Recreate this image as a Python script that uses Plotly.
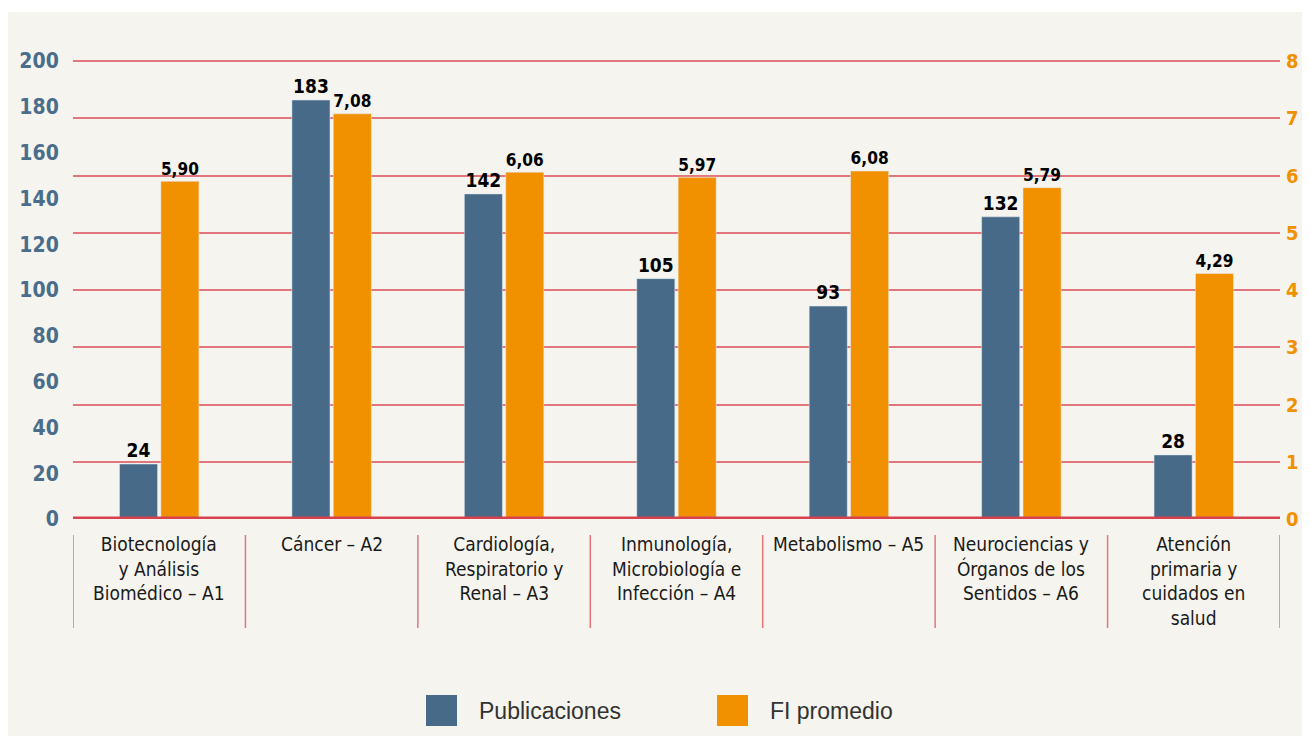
import plotly.graph_objects as go

categories = [
    "Biotecnología<br>y Análisis<br>Biomédico – A1",
    "Cáncer – A2",
    "Cardiología,<br>Respiratorio y<br>Renal – A3",
    "Inmunología,<br>Microbiología e<br>Infección – A4",
    "Metabolismo – A5",
    "Neurociencias y<br>Órganos de los<br>Sentidos – A6",
    "Atención<br>primaria y<br>cuidados en<br>salud",
]
publicaciones = [24, 183, 142, 105, 93, 132, 28]
fi_promedio = [5.90, 7.08, 6.06, 5.97, 6.08, 5.79, 4.29]
series_names = ["Publicaciones", "FI promedio"]
left_ticks = list(range(0, 201, 20))
right_ticks = list(range(0, 9))

BLUE = "#466a87"
ORANGE = "#f29100"
GRID = "#e2767d"
ZERO = "#d7424e"
BG = "#f5f4ee"
NARROW = "DejaVu Sans Condensed, Roboto Condensed, Roboto, Liberation Sans, sans-serif"

x_idx = list(range(len(categories)))

# figure sits at (8, 8) in the page; keep it inside the window
OFF = 8
W, H = 1310 - 2 * OFF, 744 - 2 * OFF
ZERO_Y = 519 - OFF
TOP8_Y = 61 - OFF
PLOT_L, PLOT_R = 73 - OFF, 1280 - OFF
YMAX2 = 8.02
unit = (ZERO_Y - TOP8_Y) / 8.0
T = int(round(ZERO_Y - YMAX2 * unit))
L, R, B = PLOT_L, W - PLOT_R, H - ZERO_Y
pw, ph = W - L - R, H - T - B

def px(xs):
    return (xs - OFF - L) / pw

def py(ys):
    return (H - B - (ys - OFF)) / ph

fig = go.Figure()
fig.add_trace(go.Bar(
    x=x_idx, y=publicaciones, name=series_names[0], marker_color=BLUE,
    offsetgroup="1", yaxis="y",
    text=[str(v) for v in publicaciones], textposition="outside",
    textfont=dict(family=NARROW, size=19, color="#000000", weight="bold"),
    cliponaxis=False, showlegend=False,
))
fig.add_trace(go.Bar(
    x=x_idx, y=fi_promedio, name=series_names[1], marker_color=ORANGE,
    offsetgroup="2", yaxis="y2",
    text=[f"{v:.2f}".replace(".", ",") for v in fi_promedio], textposition="outside",
    textfont=dict(family=NARROW, size=19, color="#000000", weight="bold"),
    cliponaxis=False, showlegend=False,
))

shapes = [
    dict(type="rect", xref="paper", yref="paper", x0=px(8), x1=px(1320),
         y0=py(12), y1=py(760), fillcolor=BG, line_width=0, layer="below"),
    dict(type="line", xref="paper", yref="y", x0=0, x1=1, y0=0, y1=0,
         line=dict(color=ZERO, width=5), layer="above"),
]
for i in range(len(categories) + 1):
    shapes.append(dict(type="line", xref="x", yref="paper", x0=i - 0.5, x1=i - 0.5,
                       y0=py(535), y1=py(628), line=dict(color=GRID, width=1.5)))

annotations = []
for i, c in enumerate(categories):
    annotations.append(dict(x=i, xref="x", y=py(531), yref="paper", text=c,
                            showarrow=False, xanchor="center", yanchor="top",
                            align="center",
                            font=dict(family=NARROW, size=19, color="#1a1a1a")))

legend_colors = [BLUE, ORANGE]
legend_x = [426, 717]
for name, col, lx in zip(series_names, legend_colors, legend_x):
    shapes.append(dict(type="rect", xref="paper", yref="paper", x0=px(lx), x1=px(lx + 31),
                       y0=py(726), y1=py(695), fillcolor=col, line_width=0))
    annotations.append(dict(x=px(lx + 51), xref="paper", y=py(711), yref="paper",
                            text=name, showarrow=False, xanchor="left", yanchor="middle",
                            font=dict(family="Liberation Sans", size=23, color="#333333")))

fig.update_layout(
    width=W, height=H,
    margin=dict(l=L, r=R, t=T, b=B, autoexpand=False),
    paper_bgcolor="white", plot_bgcolor="rgba(0,0,0,0)",
    barmode="group", bargap=0.52, bargroupgap=0.08,
    showlegend=False,
    xaxis=dict(range=[-0.5, len(categories) - 0.5], showticklabels=False, automargin=False,
               showgrid=False, zeroline=False, showline=False, tickvals=x_idx),
    yaxis=dict(range=[0, 200 * YMAX2 / 8], tickvals=left_ticks, showgrid=False, zeroline=False,
               automargin=False,
               showline=False, ticks="outside", ticklen=9, tickcolor="rgba(0,0,0,0)",
               tickfont=dict(family=NARROW, size=21, color="#4a6d8c", weight="bold")),
    yaxis2=dict(range=[0, YMAX2], tickvals=right_ticks, overlaying="y", side="right",
                automargin=False,
                showgrid=True, gridcolor=GRID, gridwidth=2, zeroline=False,
                showline=False, ticks="outside", ticklen=1, tickcolor="rgba(0,0,0,0)",
                tickfont=dict(family=NARROW, size=20, color=ORANGE, weight="bold")),
    shapes=shapes, annotations=annotations,
)

fig.write_html("out.html")
